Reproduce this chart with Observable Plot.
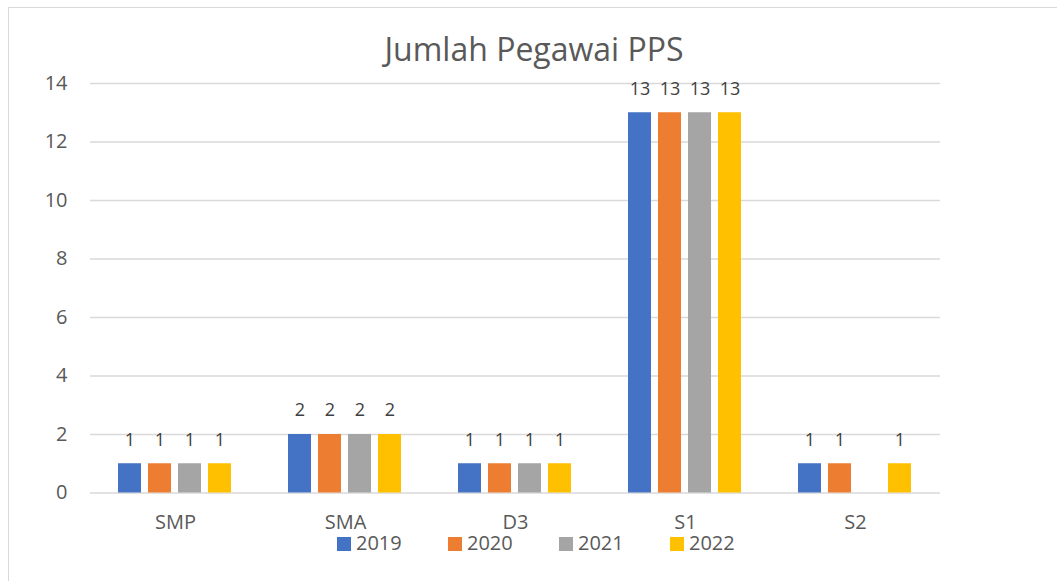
<!DOCTYPE html>
<html>
<head>
<meta charset="utf-8">
<script src="https://cdn.jsdelivr.net/npm/d3@7"></script>
<script src="https://cdn.jsdelivr.net/npm/@observablehq/plot@0.6"></script>
<style>
  html, body { margin: 0; padding: 0; background: #fff; overflow: hidden; width: 1057px; height: 581px; }
  #wrap { position: relative; width: 1057px; height: 581px; font-family: "Open Sans", Lato, sans-serif; }
  #border { position: absolute; left: 8px; top: 7px; width: 1100px; height: 600px; border: 1px solid #d9d9d9; box-sizing: border-box; }
  #title { position: absolute; left: 0; width: 1068px; top: 33px; line-height: 32px; text-align: center; font-size: 32px; color: #595959; }
  #chart { position: absolute; left: 0; top: 0; }
  #legend { position: absolute; top: 535px; left: 337px; display: flex; font-size: 20px; line-height: 16px; color: #595959; }
  .item { display: flex; align-items: flex-start; width: 111px; }
  .sw { width: 14px; height: 14px; margin-right: 5px; margin-top: 2px; }
</style>
</head>
<body>
<div id="wrap">
  <div id="border"></div>
  <div id="title">Jumlah Pegawai PPS</div>
  <div id="chart"></div>
  <div id="legend"></div>
</div>
<script>
const categories = ["SMP", "SMA", "D3", "S1", "S2"];
const years = ["2019", "2020", "2021", "2022"];
const colors = ["#4472C4", "#ED7D31", "#A5A5A5", "#FFC000"];
const v2019 = [1, 2, 1, 13, 1];
const v2020 = [1, 2, 1, 13, 1];
const v2021 = [1, 2, 1, 13, null];
const v2022 = [1, 2, 1, 13, 1];
const yTicks = [0, 2, 4, 6, 8, 10, 12, 14];

const series = [v2019, v2020, v2021, v2022];
const data = [];
categories.forEach((c, i) => {
  years.forEach((y, j) => {
    data.push({category: c, year: y, value: series[j][i]});
  });
});
const shown = data.filter(d => d.value != null);

const chart = Plot.plot({
  width: 1057,
  height: 581,
  marginLeft: 89,
  marginRight: 116,
  marginTop: 83,
  marginBottom: 88.5,
  style: {fontFamily: '"Open Sans", Lato, sans-serif', fontSize: "20px", color: "#595959", background: "transparent"},
  fx: {domain: categories, padding: 0, label: null},
  x: {domain: years, paddingInner: 0.226, paddingOuter: 0.86, axis: null},
  y: {domain: [0, 14], label: null},
  color: {domain: years, range: colors},
  marks: [
    Plot.ruleY(yTicks, {stroke: "#d9d9d9", strokeWidth: 1.3}),
    Plot.axisY({ticks: yTicks, tickSize: 0, tickPadding: 23, label: null, fill: "#595959", fontSize: 20}),
    Plot.axisFx({anchor: "bottom", tickSize: 0, tickPadding: 22, label: null, fill: "#595959", fontSize: 20}),
    Plot.barY(shown, {fx: "category", x: "year", y: "value", fill: "year"}),
    Plot.text(shown, {fx: "category", x: "year", y: "value", text: d => String(d.value), dy: -24, fill: "#404040", fontSize: 18})
  ]
});
document.getElementById("chart").appendChild(chart);

const legend = document.getElementById("legend");
years.forEach((y, i) => {
  const it = document.createElement("div");
  it.className = "item";
  const sw = document.createElement("div");
  sw.className = "sw";
  sw.style.background = colors[i];
  const t = document.createElement("span");
  t.textContent = y;
  it.appendChild(sw);
  it.appendChild(t);
  legend.appendChild(it);
});
</script>
</body>
</html>
